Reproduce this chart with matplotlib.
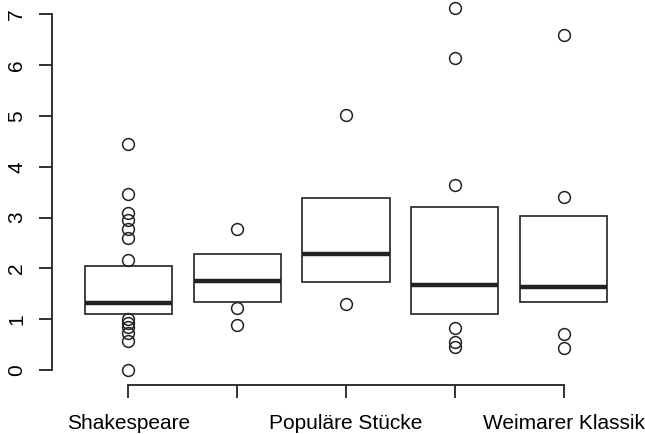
import numpy as np
import matplotlib
matplotlib.use('Agg')
import matplotlib.pyplot as plt

plt.rcParams['font.family'] = ['Liberation Sans', 'DejaVu Sans']

# Gruppen (2. und 4. Beschriftung werden im Original nicht angezeigt)
groups = ['Shakespeare', '', 'Populäre Stücke', '', 'Weimarer Klassik']

# Box: unteres Quartil, Median, oberes Quartil
q1 = [1.10, 1.34, 1.73, 1.10, 1.33]
med = [1.32, 1.75, 2.28, 1.67, 1.63]
q3 = [2.05, 2.29, 3.39, 3.20, 3.04]

# Einzelpunkte
pts_1 = [0.0, 0.58, 0.72, 0.85, 0.92, 1.00, 2.16, 2.60, 2.78, 2.95, 3.10, 3.46, 4.45]
pts_2 = [0.89, 1.22, 2.77]
pts_3 = [1.30, 5.02]
pts_4 = [0.46, 0.56, 0.83, 3.64, 6.14, 7.13]
pts_5 = [0.44, 0.70, 3.41, 6.59]
points = [pts_1, pts_2, pts_3, pts_4, pts_5]

fig = plt.figure(figsize=(6.45, 4.34), dpi=100)
ax = fig.add_axes([52/645, 1 - 384.5/434, (640-52)/645, (384.5+6.6)/434])

pos = np.arange(1, len(groups) + 1)
lc = '#222222'

ax.bar(pos, np.array(q3) - np.array(q1), bottom=q1, width=0.8,
       facecolor='white', edgecolor=lc, linewidth=1.2, zorder=2)
ax.hlines(med, pos - 0.4, pos + 0.4, colors=lc, linewidth=3.2, zorder=3)

for p, vals in zip(pos, points):
    ax.plot([p] * len(vals), vals, 'o', mfc='none', mec=lc, ms=8.5, mew=1.1, zorder=4)

ax.set_xlim(0.3, 5.7)
ax.set_ylim(-0.285, 7.415)

for s in ['top', 'right']:
    ax.spines[s].set_visible(False)
ax.spines['left'].set_bounds(0, 7)
ax.spines['bottom'].set_bounds(1, 5)
for s in ['left', 'bottom']:
    ax.spines[s].set_linewidth(1.3)
    ax.spines[s].set_color(lc)

ax.set_yticks(range(0, 8))
ax.set_yticklabels([str(i) for i in range(8)], rotation=90, va='center')
ax.set_xticks(pos)
ax.set_xticklabels(groups)
ax.tick_params(axis='y', length=9.5, width=1.3, color=lc, pad=9, labelsize=15)
ax.tick_params(axis='x', length=9, width=1.3, color=lc, pad=12.5, labelsize=15)

fig.savefig('out.png', dpi=100)
